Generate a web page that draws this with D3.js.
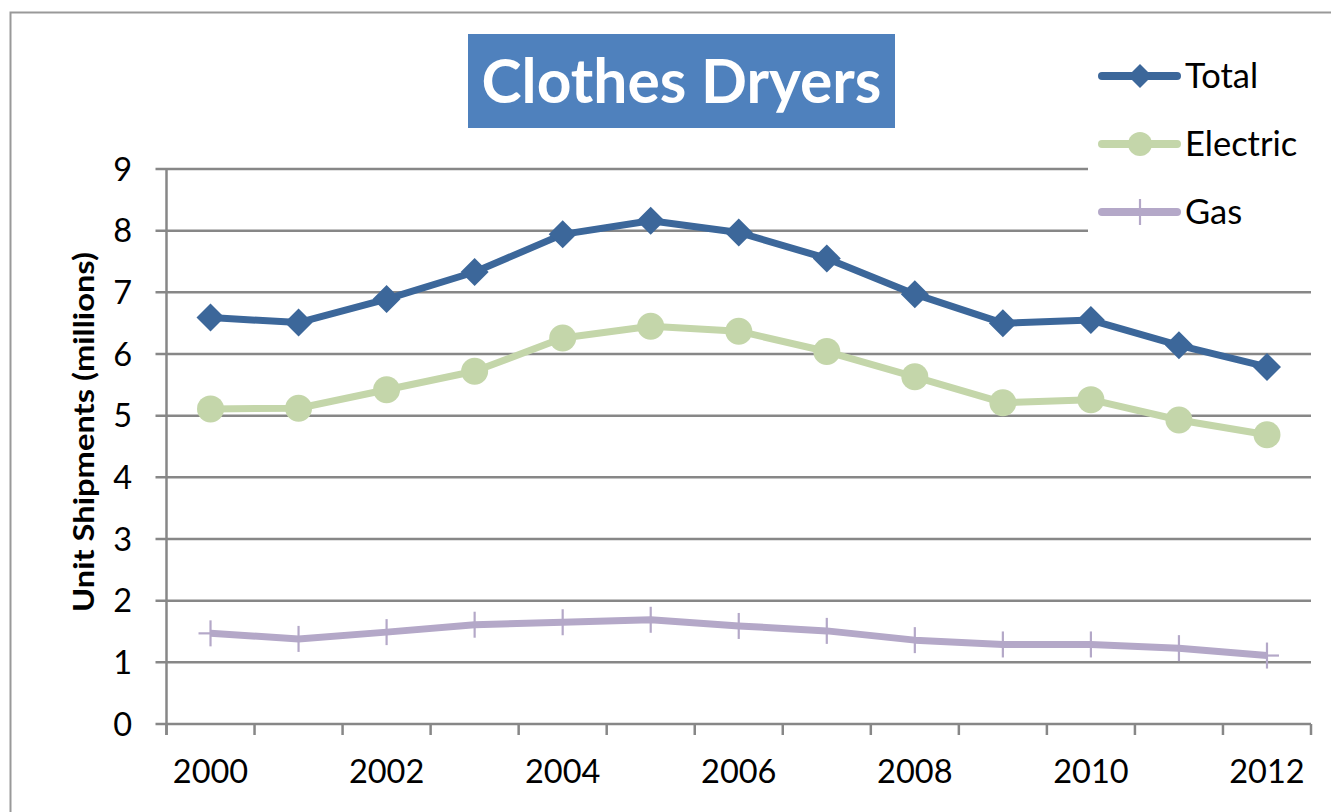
<!DOCTYPE html>
<html>
<head>
<meta charset="utf-8">
<script src="https://cdn.jsdelivr.net/npm/d3@7"></script>
<style>
  body { margin: 0; background: #fff; }
  svg text { font-family: Lato, "Open Sans", sans-serif; }
</style>
</head>
<body>
<svg id="chart" width="1331" height="812"></svg>
<script>
var years = [2000, 2001, 2002, 2003, 2004, 2005, 2006, 2007, 2008, 2009, 2010, 2011, 2012];
var total = [6.59, 6.51, 6.89, 7.33, 7.94, 8.16, 7.97, 7.55, 6.97, 6.50, 6.55, 6.14, 5.79];
var electric = [5.11, 5.12, 5.42, 5.72, 6.26, 6.45, 6.37, 6.04, 5.63, 5.21, 5.26, 4.93, 4.69];
var gas = [1.47, 1.38, 1.49, 1.61, 1.65, 1.69, 1.59, 1.51, 1.36, 1.29, 1.29, 1.23, 1.11];
var yTicks = [0, 1, 2, 3, 4, 5, 6, 7, 8, 9];
var seriesNames = ["Total", "Electric", "Gas"];

var plotLeft = 166.5,
    plotRight = 1311,
    plotTop = 169,
    plotBottom = 724;

var svg = d3.select("#chart");

// outer frame of the chart
svg.append("rect")
    .attr("x", 10.5).attr("y", 12.5)
    .attr("width", 1340).attr("height", 820)
    .attr("fill", "#fff")
    .attr("stroke", "#999").attr("stroke-width", 2);

var x = d3.scaleBand()
    .domain(years)
    .range([plotLeft, plotRight])
    .padding(0);

var y = d3.scaleLinear()
    .domain([0, 9])
    .range([plotBottom, plotTop]);

var cx = function (i) { return x(years[i]) + x.bandwidth() / 2; };

// gridlines + y ticks
svg.append("g").selectAll("line")
    .data(yTicks)
    .enter().append("line")
    .attr("x1", plotLeft - 11).attr("x2", plotRight)
    .attr("y1", function (d) { return y(d); })
    .attr("y2", function (d) { return y(d); })
    .attr("stroke", "#878787").attr("stroke-width", 2.5);

// y axis line
svg.append("line")
    .attr("x1", plotLeft).attr("x2", plotLeft)
    .attr("y1", plotTop).attr("y2", plotBottom + 11)
    .attr("stroke", "#878787").attr("stroke-width", 2.5);

// x tick marks at category boundaries
var bounds = years.map(function (d) { return x(d); }).concat([plotRight]);
svg.append("g").selectAll("line")
    .data(bounds)
    .enter().append("line")
    .attr("x1", function (d) { return d; }).attr("x2", function (d) { return d; })
    .attr("y1", plotBottom).attr("y2", plotBottom + 11)
    .attr("stroke", "#878787").attr("stroke-width", 2.5);

// y tick labels
svg.append("g").selectAll("text")
    .data(yTicks)
    .enter().append("text")
    .attr("x", 132)
    .attr("y", function (d) { return y(d); })
    .attr("dy", "0.36em")
    .attr("text-anchor", "end")
    .attr("font-size", 32.5)
    .attr("fill", "#000")
    .text(function (d) { return d; });

// x labels (every other year)
svg.append("g").selectAll("text")
    .data(years.filter(function (d, i) { return i % 2 == 0; }))
    .enter().append("text")
    .attr("x", function (d) { return x(d) + x.bandwidth() / 2; })
    .attr("y", 783)
    .attr("text-anchor", "middle")
    .attr("font-size", 32.5)
    .attr("fill", "#000")
    .text(function (d) { return d; });

// y axis title
svg.append("text")
    .attr("transform", "translate(94,432) rotate(-90)")
    .attr("text-anchor", "middle")
    .attr("font-size", 28)
    .attr("font-weight", "bold")
    .attr("textLength", 360)
    .attr("lengthAdjust", "spacingAndGlyphs")
    .attr("fill", "#000")
    .text("Unit Shipments (millions)");

// title box
svg.append("rect")
    .attr("x", 468).attr("y", 34)
    .attr("width", 427).attr("height", 94)
    .attr("fill", "#4F81BD");
svg.append("text")
    .attr("x", 681.5).attr("y", 103)
    .attr("text-anchor", "middle")
    .attr("font-size", 60.5)
    .attr("font-weight", "bold")
    .attr("fill", "#fff")
    .text("Clothes Dryers");

var colors = { Total: "#3C679A", Electric: "#C4D6AA", Gas: "#B4A8C8" };
var line = d3.line()
    .x(function (d, i) { return cx(i); })
    .y(function (d) { return y(d); });

function diamond(g, px, py, r, col) {
    g.append("path")
        .attr("d", "M" + px + "," + (py - r) + "L" + (px + r) + "," + py + "L" + px + "," + (py + r) + "L" + (px - r) + "," + py + "Z")
        .attr("fill", col);
}
function plus(g, px, py, col) {
    g.append("line").attr("x1", px).attr("x2", px).attr("y1", py - 13).attr("y2", py + 13)
        .attr("stroke", col).attr("stroke-width", 2.2);
    g.append("line").attr("x1", px - 12).attr("x2", px + 12).attr("y1", py).attr("y2", py)
        .attr("stroke", col).attr("stroke-width", 2.2);
}

// Gas
var gGas = svg.append("g");
gGas.append("path").datum(gas)
    .attr("d", line).attr("fill", "none")
    .attr("stroke", colors.Gas).attr("stroke-width", 7).attr("stroke-linejoin", "round");
gas.forEach(function (d, i) { plus(gGas, cx(i), y(d), colors.Gas); });

// Electric
var gEl = svg.append("g");
gEl.append("path").datum(electric)
    .attr("d", line).attr("fill", "none")
    .attr("stroke", colors.Electric).attr("stroke-width", 7).attr("stroke-linejoin", "round");
gEl.selectAll("circle").data(electric).enter().append("circle")
    .attr("cx", function (d, i) { return cx(i); })
    .attr("cy", function (d) { return y(d); })
    .attr("r", 13.5)
    .attr("fill", colors.Electric);

// Total
var gTot = svg.append("g");
gTot.append("path").datum(total)
    .attr("d", line).attr("fill", "none")
    .attr("stroke", colors.Total).attr("stroke-width", 7).attr("stroke-linejoin", "round");
total.forEach(function (d, i) { diamond(gTot, cx(i), y(d), 14, colors.Total); });

// legend
var legY = [76, 144, 212];
var leg = svg.append("g");
leg.append("rect").attr("x", 1088).attr("y", 40).attr("width", 243).attr("height", 200).attr("fill", "#fff");
seriesNames.forEach(function (name, i) {
    var ly = legY[i];
    leg.append("line")
        .attr("x1", 1102).attr("x2", 1177)
        .attr("y1", ly).attr("y2", ly)
        .attr("stroke", colors[name]).attr("stroke-width", 8).attr("stroke-linecap", "round");
    if (name == "Total") diamond(leg, 1140, ly, 12, colors.Total);
    if (name == "Electric") leg.append("circle").attr("cx", 1140).attr("cy", ly).attr("r", 12).attr("fill", colors.Electric);
    if (name == "Gas") leg.append("line").attr("x1", 1140).attr("x2", 1140).attr("y1", ly - 13).attr("y2", ly + 13)
        .attr("stroke", colors.Gas).attr("stroke-width", 2.2);
    leg.append("text")
        .attr("x", 1185).attr("y", ly)
        .attr("dy", "0.36em")
        .attr("font-size", 34.5)
        .attr("fill", "#000")
        .text(name);
});
</script>
</body>
</html>
